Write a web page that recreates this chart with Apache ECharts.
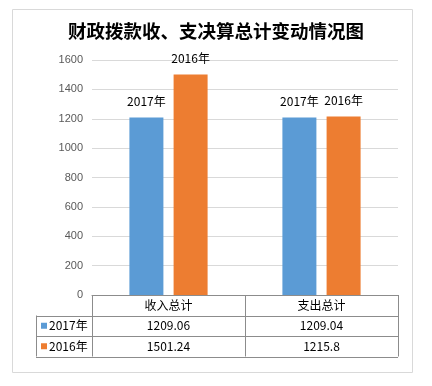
<!DOCTYPE html>
<html><head><meta charset="utf-8">
<script src="https://cdn.jsdelivr.net/npm/echarts@6/dist/echarts.min.js"></script>
<style>html,body{margin:0;padding:0;background:#fff}#c{width:432px;height:386px}</style>
</head><body><div id="c"></div>
<script>
const titleText = '财政拨款收、支决算总计变动情况图';
const categories = ['收入总计', '支出总计'];
const seriesNames = ['2017年', '2016年'];
const values2017 = [1209.06, 1209.04];
const values2016 = [1501.24, 1215.8];
const tableText2017 = ['1209.06', '1209.04'];
const tableText2016 = ['1501.24', '1215.8'];
const colors = ['#5b9bd5', '#ed7d31'];
const yMin = 0, yMax = 1600, yStep = 200;

const FONT = '"Noto Sans CJK SC", "Noto Sans", sans-serif';
const chart = echarts.init(document.getElementById('c'), null, {renderer: 'canvas'});

const option = {
  animation: false,
  textStyle: {fontFamily: FONT},
  title: {
    text: titleText, left: 'center', top: 17,
    textStyle: {fontSize: 18.5, fontWeight: 'bold', color: '#000', fontFamily: FONT}
  },
  grid: {left: 92, right: 34, top: 60, bottom: 91, containLabel: false},
  xAxis: {
    type: 'category', data: categories,
    axisLine: {show: true, lineStyle: {color: '#8c8c8c', width: 1}},
    axisTick: {show: false},
    axisLabel: {margin: 4, fontSize: 12, color: '#000', fontFamily: FONT}
  },
  yAxis: {
    type: 'value', min: yMin, max: yMax, interval: yStep,
    axisLine: {show: false}, axisTick: {show: false},
    axisLabel: {margin: 9, fontSize: 11, color: '#595959', fontFamily: '"Liberation Sans", sans-serif', formatter: v => String(v)},
    splitLine: {lineStyle: {color: '#d9d9d9', width: 1}}
  },
  series: [
    {name: seriesNames[0], type: 'bar', data: values2017, barWidth: 34, barGap: '30%',
     itemStyle: {color: colors[0]},
     label: {show: true, position: 'top', distance: 10, formatter: '{a}', fontSize: 12, color: '#000', fontFamily: FONT}},
    {name: seriesNames[1], type: 'bar', data: values2016, barWidth: 34, barGap: '30%',
     itemStyle: {color: colors[1]},
     label: {show: true, position: 'top', distance: 10, formatter: '{a}', fontSize: 12, color: '#000', fontFamily: FONT}}
  ]
};
chart.setOption(option);

// Data table under the axis, positioned from the chart's own scales
const c0 = chart.convertToPixel({xAxisIndex: 0}, 0);
const c1 = chart.convertToPixel({xAxisIndex: 0}, 1);
const band = c1 - c0;
const gx0 = c0 - band / 2, gx1 = gx0 + band, gx2 = gx1 + band;
const y0 = chart.convertToPixel({yAxisIndex: 0}, 0);
const rowH = 20.5;
const r1 = y0 + rowH, r2 = r1 + rowH, r3 = r2 + rowH;
const labelLeft = gx0 - 56;
const lineStyle = {stroke: '#8c8c8c', lineWidth: 1};
const g = [];
g.push({type: 'rect', shape: {x: 12.5, y: 9.5, width: 400, height: 363}, style: {fill: 'none', stroke: '#d9d9d9', lineWidth: 1}, silent: true, z: -1});
[gx0, gx1, gx2].forEach(x => g.push({type: 'line', shape: {x1: Math.round(x) + 0.5, y1: y0, x2: Math.round(x) + 0.5, y2: r3}, style: lineStyle}));
g.push({type: 'line', shape: {x1: Math.round(labelLeft) + 0.5, y1: r1, x2: Math.round(labelLeft) + 0.5, y2: r3}, style: lineStyle});
[r1, r2, r3].forEach(y => g.push({type: 'line', shape: {x1: labelLeft, y1: Math.round(y) + 0.5, x2: gx2, y2: Math.round(y) + 0.5}, style: lineStyle}));
const rows = [tableText2017, tableText2016];
rows.forEach((vals, ri) => {
  const yc = y0 + rowH * (ri + 1.5);
  g.push({type: 'rect', shape: {x: labelLeft + 5, y: yc - 3, width: 6, height: 6}, style: {fill: colors[ri]}});
  g.push({type: 'text', x: labelLeft + 13, y: yc, style: {text: seriesNames[ri], font: '12px ' + FONT, fill: '#000', textVerticalAlign: 'middle', verticalAlign: 'middle'}});
  vals.forEach((v, ci) => {
    g.push({type: 'text', x: gx0 + band * (ci + 0.5), y: yc, style: {text: v, font: '12px ' + FONT, fill: '#000', align: 'center', verticalAlign: 'middle', textAlign: 'center', textVerticalAlign: 'middle'}});
  });
});
chart.setOption({graphic: g});
</script></body></html>
